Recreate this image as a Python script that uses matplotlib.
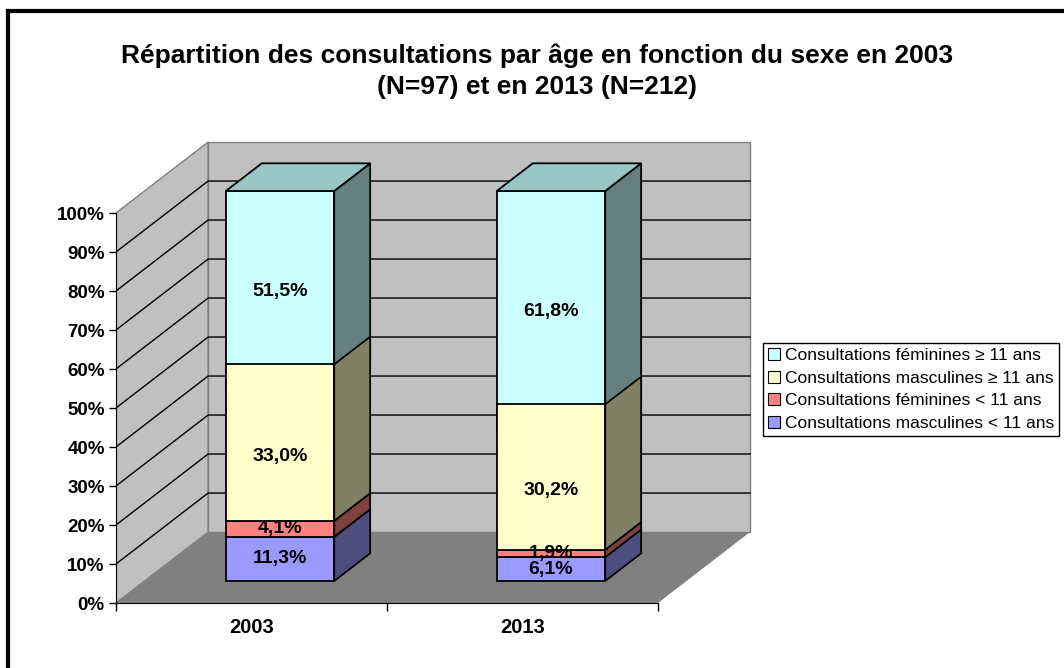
import matplotlib.pyplot as plt
from matplotlib.patches import Polygon, Patch
from matplotlib.lines import Line2D
from matplotlib.ticker import FixedLocator, NullFormatter, FixedFormatter

plt.rcParams['font.family'] = ['Liberation Sans', 'DejaVu Sans']

# data (percent of consultations per year)
years = ['2003', '2013']
series = ['Consultations masculines < 11 ans', 'Consultations féminines < 11 ans',
          'Consultations masculines ≥ 11 ans', 'Consultations féminines ≥ 11 ans']
masc_moins_11 = [11.3, 6.1]
fem_moins_11 = [4.1, 1.9]
masc_plus_11 = [33.0, 30.2]
fem_plus_11 = [51.5, 61.8]

front_colors = ['#9999FF', '#FF8080', '#FFFFCC', '#CCFFFF']
side_colors = ['#4D4D80', '#804040', '#808066', '#668080']
top_colors = ['#7A7ACC', '#CC6666', '#CCCCA3', '#99C6C6']

# oblique depth of the 3D box (x in category units, y in percent)
DX = 0.34
DY = 18.2
BAR_W = 0.4
D0, D1 = 0.31, 0.70
RISE = (D1 - D0) * DY
# the old Excel renderer paints the yellow box's top over the cyan front face
overdraw = [0, 0, RISE, 0]


def proj(x, z, d):
    return (x + d * DX, z + d * DY)


fig = plt.figure(figsize=(10.64, 6.68), dpi=100)
ax = fig.add_axes([0.109, 0.0973, 0.5985, 0.7006])
ax.set_xlim(0, 2.35)
ax.set_ylim(0, 120)
ax.patch.set_visible(False)

n = len(years)
wall_edge = '#808080'
# floor, left wall, back wall
ax.add_patch(Polygon([proj(0, 0, 0), proj(n, 0, 0), proj(n, 0, 1), proj(0, 0, 1)],
                     closed=True, facecolor='#808080', edgecolor='none', zorder=0))
ax.add_patch(Polygon([proj(0, 0, 0), proj(0, 0, 1), proj(0, 100, 1), proj(0, 100, 0)],
                     closed=True, facecolor='#C0C0C0', edgecolor=wall_edge, lw=1, zorder=0))
ax.add_patch(Polygon([proj(0, 0, 1), proj(n, 0, 1), proj(n, 100, 1), proj(0, 100, 1)],
                     closed=True, facecolor='#C0C0C0', edgecolor=wall_edge, lw=1, zorder=0))

for z in range(10, 100, 10):
    pts = [proj(0, z, 0), proj(0, z, 1), proj(n, z, 1)]
    ax.plot([p[0] for p in pts], [p[1] for p in pts], color='black', lw=1, zorder=1)

# stacked boxes
stack = [masc_moins_11, fem_moins_11, masc_plus_11, fem_plus_11]
for i in range(n):
    vals = [s[i] for s in stack]
    total = sum(vals)
    bottom = 0
    x0 = i + 0.5 - BAR_W / 2
    x1 = i + 0.5 + BAR_W / 2
    for k, v in enumerate(vals):
        h = v / total * 100
        top = bottom + h
        dtop = top + overdraw[k]
        zo = 4 if overdraw[k] else 3
        front = [proj(x0, bottom, D0), proj(x1, bottom, D0), proj(x1, dtop, D0), proj(x0, dtop, D0)]
        side = [proj(x1, bottom, D0), proj(x1, bottom, D1), proj(x1, dtop, D1), proj(x1, dtop, D0)]
        ax.add_patch(Polygon(front, closed=True, facecolor=front_colors[k],
                             edgecolor='black', lw=1.3, zorder=zo))
        ax.add_patch(Polygon(side, closed=True, facecolor=side_colors[k],
                             edgecolor='black', lw=1.3, zorder=zo))
        if k == len(vals) - 1:
            cap = [proj(x0, top, D0), proj(x1, top, D0), proj(x1, top, D1), proj(x0, top, D1)]
            ax.add_patch(Polygon(cap, closed=True, facecolor=top_colors[k],
                                 edgecolor='black', lw=1.3, zorder=zo))
        cx, cy = proj(i + 0.5, bottom + h / 2, D0)
        ax.text(cx, cy, f'{v:.1f}%'.replace('.', ','), ha='center', va='center',
                fontsize=14, fontweight='bold', zorder=6)
        bottom = top

# axes
for s in ['top', 'right']:
    ax.spines[s].set_visible(False)
ax.spines['left'].set_bounds(0, 100)
ax.spines['bottom'].set_bounds(0, n)
ax.spines['left'].set_zorder(2)
ax.set_yticks(range(0, 101, 10))
ax.set_yticklabels([f'{t}%' for t in range(0, 101, 10)])
ax.tick_params(axis='y', length=5, width=1, pad=3, labelsize=13.5)
for lab in ax.get_yticklabels():
    lab.set_fontweight('bold')

ax.xaxis.set_major_locator(FixedLocator([0, 1, 2]))
ax.xaxis.set_major_formatter(NullFormatter())
ax.xaxis.set_minor_locator(FixedLocator([0.5, 1.5]))
ax.xaxis.set_minor_formatter(FixedFormatter(years))
ax.tick_params(axis='x', which='major', length=6, width=1)
ax.tick_params(axis='x', which='minor', length=0, pad=11, labelsize=14.5)
for lab in ax.get_xticklabels(minor=True):
    lab.set_fontweight('bold')

# legend (reverse order like Excel)
handles = [Patch(facecolor=front_colors[k], edgecolor='black', lw=0.8) for k in range(4)][::-1]
leg = ax.legend(handles, series[::-1], loc='upper left', bbox_to_anchor=(0.717, 0.4865),
                bbox_transform=fig.transFigure, fancybox=False, framealpha=1,
                edgecolor='black', fontsize=12.5, handlelength=0.7, handleheight=0.7,
                handletextpad=0.25, labelspacing=0.42, borderpad=0.3, borderaxespad=0)
leg.get_frame().set_linewidth(1)

fig.text(0.505, 0.893, 'Répartition des consultations par âge en fonction du sexe en 2003\n'
         '(N=97) et en 2013 (N=212)', ha='center', va='center', fontsize=19,
         fontweight='bold', linespacing=1.35)

# chart area border
fig.add_artist(Line2D([0.0075, 1.0], [0.9835, 0.9835], color='black', lw=3))
fig.add_artist(Line2D([0.0075, 0.0075], [0.0, 0.9835], color='black', lw=3))

fig.savefig('out.png', dpi=100)
